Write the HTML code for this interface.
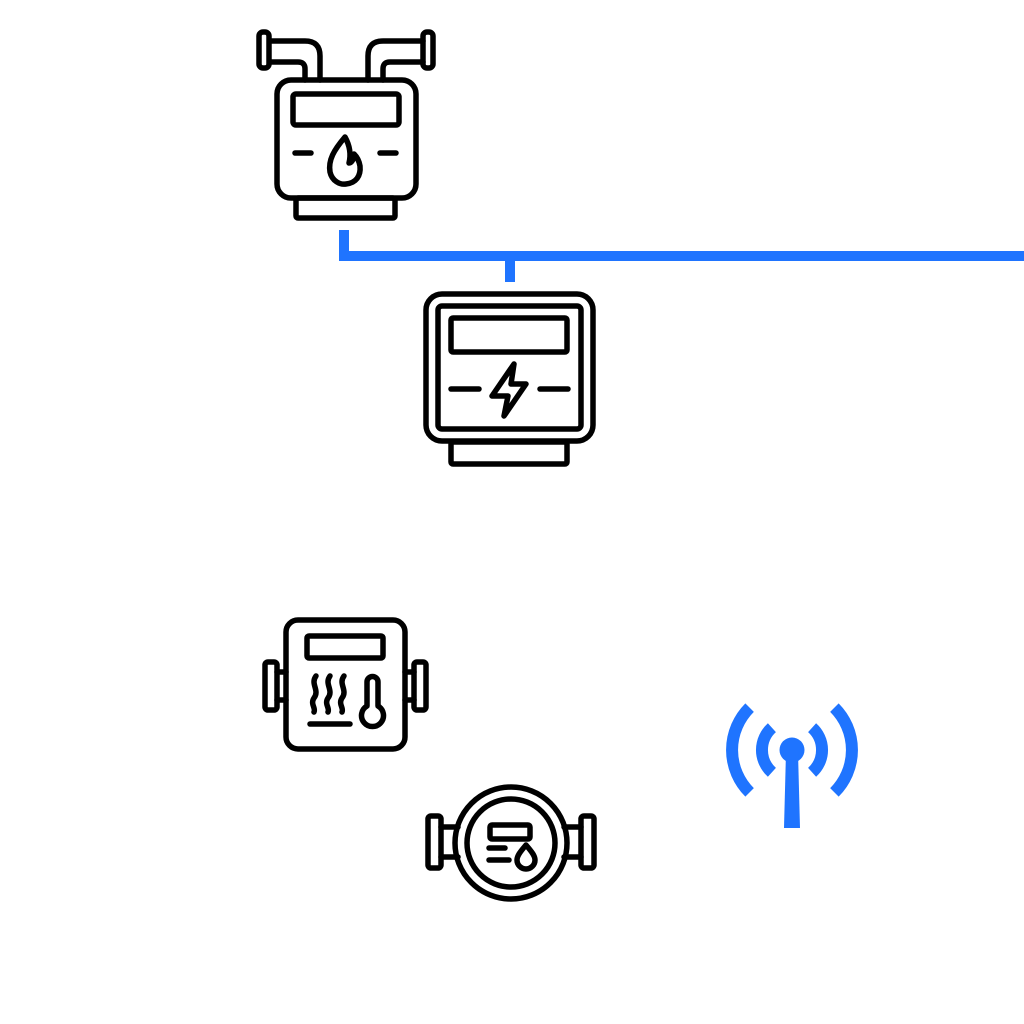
<!DOCTYPE html>
<html><head><style>html,body{margin:0;padding:0;background:#fff}svg{display:block}</style></head>
<body>
<svg width="1024" height="1024" viewBox="0 0 1024 1024" xmlns="http://www.w3.org/2000/svg">
<rect width="1024" height="1024" fill="#fff"/>
<g fill="none" stroke="#1f74ff" stroke-width="10">
<polyline points="344,230 344,256 1024,256"/>
<line x1="510" y1="256" x2="510" y2="282"/>
</g>
<g fill="none" stroke="#000" stroke-width="5.5" stroke-linejoin="round" stroke-linecap="round">
<!-- gas meter -->
<rect x="277" y="80" width="139" height="118" rx="14"/>
<rect x="293" y="94" width="106" height="31" rx="3"/>
<line x1="295" y1="153" x2="311" y2="153"/>
<line x1="380" y1="153" x2="396" y2="153"/>
<path d="M345 137 C334 150 328 160 330 172 C332 181 340 185 346 184 C356 183 361 176 360 166 C359 160 356 156 354 154 C354 160 351 163 349 163 C351 155 350 146 345 137 Z"/>
<rect x="296" y="198" width="99" height="20" rx="2"/>
<path d="M320 80 V56 Q320 41 305 41 H270"/>
<path d="M305 80 V69 Q305 62 298 62 H270"/>
<rect x="259" y="32" width="10" height="36" rx="4"/>
<path d="M368 80 V56 Q368 41 383 41 H423"/>
<path d="M383 80 V69 Q383 62 390 62 H423"/>
<rect x="423" y="32" width="10" height="36" rx="4"/>
<!-- electric meter -->
<rect x="426" y="294" width="167" height="147" rx="16"/>
<rect x="438" y="306" width="143" height="123" rx="4"/>
<rect x="451" y="318" width="116" height="34" rx="2"/>
<line x1="451" y1="389" x2="479" y2="389"/>
<line x1="540" y1="389" x2="568" y2="389"/>
<path d="M514 364 L492 396 H508 L504 416 L526 384 H511 Z"/>
<rect x="451" y="442" width="116" height="22" rx="2"/>
<!-- heat meter -->
<rect x="286" y="620" width="119" height="129" rx="12"/>
<rect x="307" y="636" width="76" height="22" rx="2"/>
<rect x="265" y="662" width="12" height="48" rx="3"/>
<line x1="277" y1="672" x2="286" y2="672"/><line x1="277" y1="700" x2="286" y2="700"/>
<rect x="414" y="662" width="12" height="48" rx="3"/>
<line x1="405" y1="672" x2="414" y2="672"/><line x1="405" y1="700" x2="414" y2="700"/>
<path d="M316 676 C310 684 320 690 314 698 C310 704 316 708 314 712"/>
<path d="M330 676 C324 684 334 690 328 698 C324 704 330 708 328 712"/>
<path d="M344 676 C338 684 348 690 342 698 C338 704 344 708 342 712"/>
<line x1="310" y1="724" x2="350" y2="724"/>
<path d="M367 706 V682 A5.5 5.5 0 0 1 378 682 V706 A11 11 0 1 1 367 706 Z"/>
<!-- water meter -->
<circle cx="511" cy="843" r="56"/>
<circle cx="511" cy="843" r="44"/>
<rect x="428" y="816" width="13" height="52" rx="3"/>
<line x1="441" y1="827" x2="458" y2="827"/><line x1="441" y1="857" x2="458" y2="857"/>
<rect x="581" y="816" width="13" height="52" rx="3"/>
<line x1="564" y1="827" x2="581" y2="827"/><line x1="564" y1="857" x2="581" y2="857"/>
<rect x="490" y="825" width="40" height="14" rx="2"/>
<line x1="489" y1="848" x2="505" y2="848"/>
<line x1="489" y1="860" x2="509" y2="860"/>
<path d="M526 845 C520 852 517 856 517 860 A9 9 0 0 0 535 860 C535 856 532 852 526 845 Z"/>
</g>
<g fill="#1f74ff">
<circle cx="792" cy="750" r="12.5"/>
<polygon points="786,752 798,752 800,828 784,828"/>
</g>
<g fill="none" stroke="#1f74ff" stroke-width="12">
<path d="M771.9 727.7 A30 30 0 0 0 771.9 772.3"/>
<path d="M812.1 727.7 A30 30 0 0 1 812.1 772.3"/>
<path d="M749.6 707.6 A60 60 0 0 0 749.6 792.4"/>
<path d="M834.4 707.6 A60 60 0 0 1 834.4 792.4"/>
</g>
</svg>
</body></html>
